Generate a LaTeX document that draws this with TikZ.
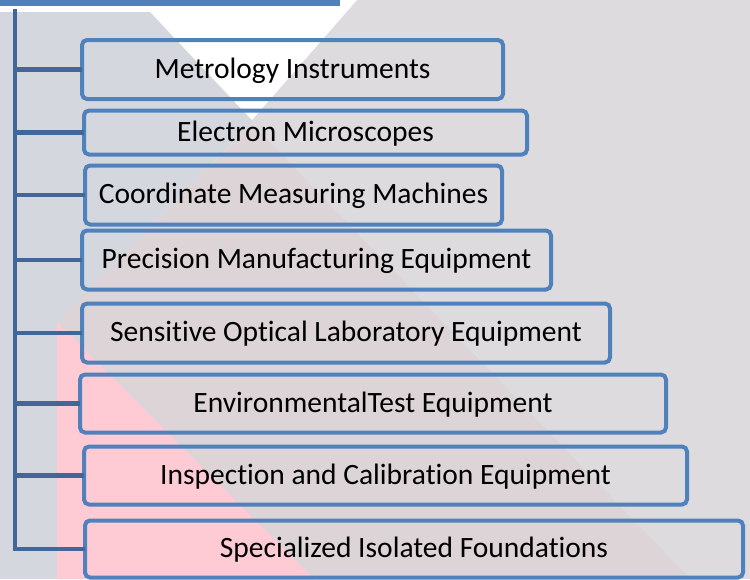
\documentclass[tikz,border=0pt]{standalone}
\usepackage{fontspec}
\setmainfont[Ligatures=NoCommon]{Carlito}
\definecolor{bgGray}{HTML}{DDDBDD}
\definecolor{bgBlue}{HTML}{D5D7DF}
\definecolor{bgPinkLight}{HTML}{DCD4D7}
\definecolor{bgPink}{HTML}{FECAD4}
\definecolor{boxBlue}{HTML}{4F81BD}
\definecolor{trunkBlue}{HTML}{41679A}
\tikzset{
  itembox/.style={draw=boxBlue, line width=4pt, rounded corners=5pt, inner sep=0pt, outer sep=0pt,
    font=\fontsize{29.5}{34}\selectfont, text=black, text height=23pt, text depth=6pt},
  branch/.style={draw=trunkBlue, line width=4.5pt},
}
\begin{document}
\begin{tikzpicture}[x=1pt,y=-1pt]
\useasboundingbox (0,0) rectangle (750,579);
% background
\fill[bgGray] (0,0) rectangle (750,579);
\fill[white] (0,0) -- (357,0) -- (252,120) -- (150,12) -- (0,12) -- cycle;
\fill[bgBlue] (0,12) -- (150,12) -- (252,122) -- (57,322) -- (57,579) -- (0,579) -- cycle;
\fill[bgPinkLight] (252,124) -- (690,579) -- (57,579) -- (57,322) -- cycle;
\fill[bgPink] (57,322) -- (314,579) -- (57,579) -- cycle;
% header bar
\node[fill=boxBlue, minimum width=340pt, minimum height=6pt, inner sep=0pt, outer sep=0pt, anchor=north west] (header) at (0,0) {};
% boxes
\node[itembox, minimum width=421pt, minimum height=59pt] (b1) at (292.5,69.5) {Metrology Instruments};
\node[itembox, minimum width=443pt, minimum height=44pt] (b2) at (305.5,132.5) {Electron Microscopes};
\node[itembox, minimum width=417pt, minimum height=59pt] (b3) at (293.5,195) {Coordinate Measuring Machines};
\node[itembox, minimum width=469pt, minimum height=59pt] (b4) at (316.5,260) {Precision Manufacturing Equipment};
\node[itembox, minimum width=528pt, minimum height=59pt] (b5) at (346,333) {Sensitive Optical Laboratory Equipment};
\node[itembox, minimum width=586pt, minimum height=58pt] (b6) at (373,403.5) {EnvironmentalTest Equipment};
\node[itembox, minimum width=603pt, minimum height=58pt] (b7) at (385.5,475.5) {Inspection and Calibration Equipment};
\node[itembox, minimum width=658pt, minimum height=57pt] (b8) at (414,549) {Specialized Isolated Foundations};
% connectors
\coordinate (top) at (15,9);
\draw[branch] (top) |- (b8.west);
\foreach \b in {b1,b2,b3,b4,b5,b6,b7}{
  \draw[branch] (\b.west -| top) -- (\b.west);
}
\end{tikzpicture}
\end{document}
